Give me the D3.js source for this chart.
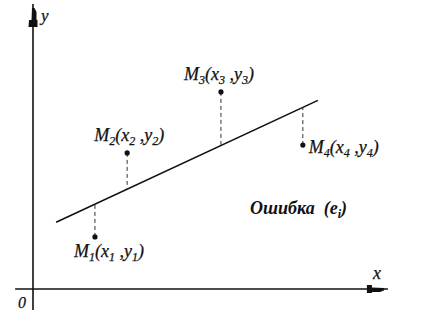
<!DOCTYPE html>
<html>
<head>
<meta charset="utf-8">
<script src="https://cdn.jsdelivr.net/npm/d3@7"></script>
<style>
html,body{margin:0;padding:0;background:#fff;}
svg{display:block;}
</style>
</head>
<body>
<svg id="chart" width="433" height="319"></svg>
<script>
// ---- data ----
const pointNames = ["M", "M", "M", "M"];
const pointIndex = ["1", "2", "3", "4"];
const xValues = [1.77, 2.69, 5.37, 7.71];
const yValues = [1.86, 4.86, 7.04, 5.14];
const lineXRange = [0.66, 8.14];
const lineIntercept = 2.0;
const lineSlope = 0.582;
const axisXExtent = [-0.51, 10.14];
const axisYExtent = [-0.75, 10.18];
const axisLabels = ["x", "y", "0"];
const errorLabel = "Ошибка";

// ---- scales ----
const svg = d3.select("#chart");
const x = d3.scaleLinear().domain([0, 10]).range([33, 383]);
const y = d3.scaleLinear().domain([0, 10]).range([289, 9]);
const ink = "#111";
const serif = "'Liberation Serif', 'Times New Roman', 'DejaVu Serif', serif";

// axes
svg.append("line")
  .attr("x1", x(axisXExtent[0])).attr("x2", x(axisXExtent[1]))
  .attr("y1", y(0)).attr("y2", y(0))
  .attr("stroke", ink).attr("stroke-width", 1.6);
svg.append("line")
  .attr("x1", x(0)).attr("x2", x(0))
  .attr("y1", y(axisYExtent[0])).attr("y2", y(axisYExtent[1]))
  .attr("stroke", ink).attr("stroke-width", 1.6);

// arrowheads (feathered style)
const ax = x(0), ay = y(axisYExtent[1]);
svg.append("path")
  .attr("d", `M${ax-1},${ay+4} L${ax+1.5},${ay+4} L${ax+3.5},${ay+8} L${ax+3.5},${ay+16} L${ax+4.5},${ay+16} L${ax+4.5},${ay+23} L${ax-4.5},${ay+23} L${ax-4},${ay+16} L${ax-1.5},${ay+16} Z`)
  .attr("fill", ink);
const bx = x(axisXExtent[1]), by = y(0);
svg.append("path")
  .attr("d", `M${bx-4},${by-1} L${bx-4},${by+1.5} L${bx-8},${by+3} L${bx-16},${by+3} L${bx-16},${by+4} L${bx-21},${by+4} L${bx-21},${by-4} L${bx-16},${by-4} L${bx-16},${by-1.5} Z`)
  .attr("fill", ink);

function txt(px, py, size) {
  return svg.append("text")
    .attr("x", px).attr("y", py)
    .attr("font-family", serif).attr("font-style", "italic")
    .attr("font-size", size).attr("fill", ink)
    .attr("stroke", ink).attr("stroke-width", 0.25)
    .attr("xml:space", "preserve").style("white-space", "pre");
}

// axis labels
txt(41, 21, 17).text(axisLabels[1]);
txt(373, 279, 18).text(axisLabels[0]);
txt(18, 308, 16).text(axisLabels[2]);

// regression line
svg.append("line")
  .attr("x1", x(lineXRange[0])).attr("y1", y(lineIntercept + lineSlope * lineXRange[0]))
  .attr("x2", x(lineXRange[1])).attr("y2", y(lineIntercept + lineSlope * lineXRange[1]))
  .attr("stroke", ink).attr("stroke-width", 1.6);

// residual dashes
const pts = xValues.map((v, i) => ({xv: v, yv: yValues[i], name: pointNames[i], idx: pointIndex[i]}));
svg.selectAll("line.res").data(pts).enter().append("line")
  .attr("class", "res")
  .attr("x1", d => x(d.xv)).attr("x2", d => x(d.xv))
  .attr("y1", d => y(d.yv)).attr("y2", d => y(lineIntercept + lineSlope * d.xv))
  .attr("stroke", "#333").attr("stroke-width", 1).attr("stroke-dasharray", "4,3");

// points
svg.selectAll("circle.pt").data(pts).enter().append("circle")
  .attr("class", "pt")
  .attr("cx", d => x(d.xv)).attr("cy", d => y(d.yv)).attr("r", 2.6).attr("fill", ink);

// labels
const offsets = [[-21, 20], [-33, -12], [-37, -12], [6, 8]];
pts.forEach((d, i) => {
  const t = txt(x(d.xv) + offsets[i][0], y(d.yv) + offsets[i][1], 18);
  const sub = s => t.append("tspan").attr("font-size", 12).attr("dy", 4).text(s);
  const norm = s => t.append("tspan").attr("font-size", 18).attr("dy", -4).text(s);
  t.append("tspan").text(d.name);
  sub(d.idx);
  norm("(x");
  sub(d.idx);
  norm(" ,y");
  sub(d.idx);
  norm(")");
});

// error label
const e = txt(250, 214, 18).attr("font-weight", "bold").attr("stroke-width", 0);
e.append("tspan").text(errorLabel + "  (e");
e.append("tspan").attr("font-size", 12).attr("dy", 4).text("i");
e.append("tspan").attr("dy", -4).text(")");
</script>
</body>
</html>
